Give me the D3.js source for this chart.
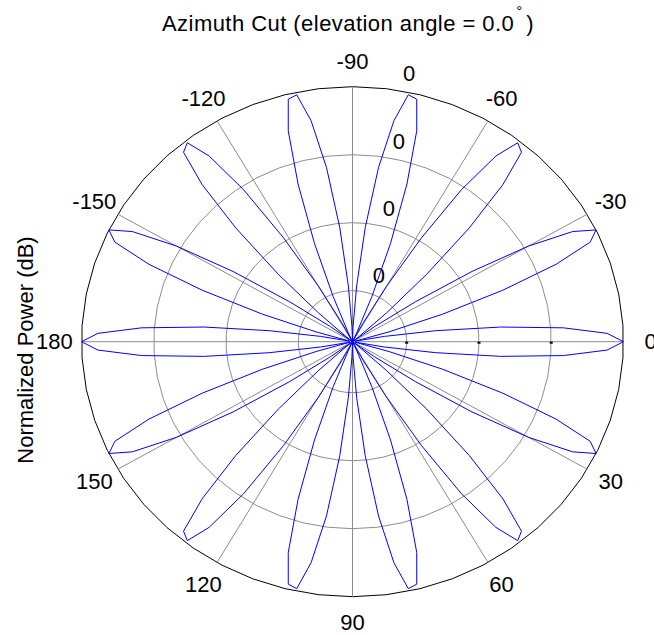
<!DOCTYPE html>
<html>
<head>
<meta charset="utf-8">
<script src="https://cdn.jsdelivr.net/npm/d3@7"></script>
<style>
  html, body { margin: 0; padding: 0; background: #fff; }
  svg { display: block; font-family: "Liberation Sans", Arial, sans-serif; }
</style>
</head>
<body>
<svg id="chart" width="654" height="635"></svg>
<script>
// ---- data ----
const titleText = "Azimuth Cut (elevation angle = 0.0";
const yLabelText = "Normalized Power (dB)";
// azimuth samples every 2 degrees from -180 to 180
const azimuthStart = -180, azimuthStop = 180, azimuthStep = 2;
// normalized power (linear), one value per azimuth sample
const powerValues = [
  1.00,0.94,0.78,0.55,0.31,0.12,0.01,0.02,0.14,0.35,
  0.59,0.81,0.96,1.00,0.92,0.75,0.52,0.28,0.10,0.00,
  0.03,0.17,0.38,0.62,0.83,0.97,0.99,0.90,0.72,0.48,
  0.25,0.08,0.00,0.04,0.19,0.41,0.65,0.86,0.98,0.99,
  0.88,0.69,0.45,0.22,0.06,0.00,
  0.06,0.22,0.45,0.69,0.88,0.99,0.98,0.86,0.65,0.41,
  0.19,0.04,0.00,0.08,0.25,0.48,0.72,0.90,0.99,0.97,
  0.83,0.62,0.38,0.17,0.03,0.00,0.10,0.28,0.52,0.75,
  0.92,1.00,0.96,0.81,0.59,0.35,0.14,0.02,0.01,0.12,
  0.31,0.55,0.78,0.94,1.00,
  0.94,0.78,0.55,0.31,0.12,0.01,0.02,0.14,0.35,
  0.59,0.81,0.96,1.00,0.92,0.75,0.52,0.28,0.10,0.00,
  0.03,0.17,0.38,0.62,0.83,0.97,0.99,0.90,0.72,0.48,
  0.25,0.08,0.00,0.04,0.19,0.41,0.65,0.86,0.98,0.99,
  0.88,0.69,0.45,0.22,0.06,0.00,
  0.06,0.22,0.45,0.69,0.88,0.99,0.98,0.86,0.65,0.41,
  0.19,0.04,0.00,0.08,0.25,0.48,0.72,0.90,0.99,0.97,
  0.83,0.62,0.38,0.17,0.03,0.00,0.10,0.28,0.52,0.75,
  0.92,1.00,0.96,0.81,0.59,0.35,0.14,0.02,0.01,0.12,
  0.31,0.55,0.78,0.94,1.00
];
// radial rings and their labels
const ringValues = [0.2, 0.4667, 0.7333, 1.0];
const ringLabels = ["0", "0", "0", "0"];
// angular spokes and labels
const spokeAngles = [0, 30, 60, 90, 120, 150];
const angleTickValues = [0, 30, 60, 90, 120, 150, 180, -150, -120, -90, -60, -30];
const angleTickLabels = ["0", "30", "60", "90", "120", "150", "180", "-150", "-120", "-90", "-60", "-30"];

// ---- layout ----
const svg = d3.select("#chart");
const cx = 352.5, cy = 341.7;
const rx = d3.scaleLinear().domain([0, 1]).range([0, 271]);
const ry = d3.scaleLinear().domain([0, 1]).range([0, 255]);
const rad = d => d * Math.PI / 180;
const px = (r, deg) => cx + rx(r) * Math.cos(rad(deg));
const py = (r, deg) => cy + ry(r) * Math.sin(rad(deg));

const g = svg.append("g");

// rings (polygonal, as in the original)
const ringStep = 7.2;
const ringAngles = d3.range(0, 51).map(i => ringStep / 2 + i * ringStep);
const ringLine = d3.line();
ringValues.forEach((rv, i) => {
  const pts = ringAngles.map(a => [px(rv, a), py(rv, a)]);
  g.append("path")
    .attr("d", ringLine(pts))
    .attr("fill", "none")
    .attr("stroke", i === ringValues.length - 1 ? "#000" : "#8c8c8c")
    .attr("stroke-width", 1);
});

// spokes
spokeAngles.forEach(a => {
  g.append("line")
    .attr("x1", px(1, a + 180)).attr("y1", py(1, a + 180))
    .attr("x2", px(1, a)).attr("y2", py(1, a))
    .attr("stroke", "#8c8c8c").attr("stroke-width", 1);
});

// tick marks on the 0-degree spoke
ringValues.slice(0, 3).forEach(rv => {
  g.append("rect")
    .attr("x", px(rv, 0) - 1.5).attr("y", cy)
    .attr("width", 3).attr("height", 2)
    .attr("fill", "#000");
});

// angle labels
angleTickValues.forEach((a, i) => {
  g.append("text")
    .attr("x", px(1.1, a)).attr("y", py(1.1, a))
    .attr("text-anchor", "middle")
    .attr("dominant-baseline", "central")
    .attr("font-size", 22)
    .attr("fill", "#000")
    .text(angleTickLabels[i]);
});

// ring labels
const rStep = ringValues[1] - ringValues[0];
ringValues.forEach((rv, i) => {
  const rr = rv + rStep / 20;
  g.append("text")
    .attr("x", px(rr, -82) + 12.2)
    .attr("y", py(rr, -82) - 4.6)
    .attr("font-size", 22)
    .attr("fill", "#000")
    .text(ringLabels[i]);
});

// pattern line
const samples = powerValues.map((v, i) => ({ az: azimuthStart + i * azimuthStep, p: v }));
const patLine = d3.line().x(d => px(d.p, d.az)).y(d => py(d.p, d.az));
g.append("path")
  .attr("d", patLine(samples))
  .attr("fill", "none")
  .attr("stroke", "#0000ff")
  .attr("stroke-width", 1)
  .attr("stroke-linejoin", "round");

// title
const title = svg.append("text")
  .attr("x", 162).attr("y", 31)
  .attr("text-anchor", "start")
  .attr("font-size", 22)
  .attr("fill", "#000");
title.append("tspan").attr("letter-spacing", 0.45).text(titleText);
title.append("tspan").attr("font-size", 15).attr("dy", -15).attr("dx", 2).text("°");
title.append("tspan").attr("dy", 15).attr("dx", 4).text(")");

// y label
svg.append("text")
  .attr("transform", "translate(33,350) rotate(-90)")
  .attr("text-anchor", "middle")
  .attr("font-size", 22)
  .attr("fill", "#000")
  .text(yLabelText);
</script>
</body>
</html>
